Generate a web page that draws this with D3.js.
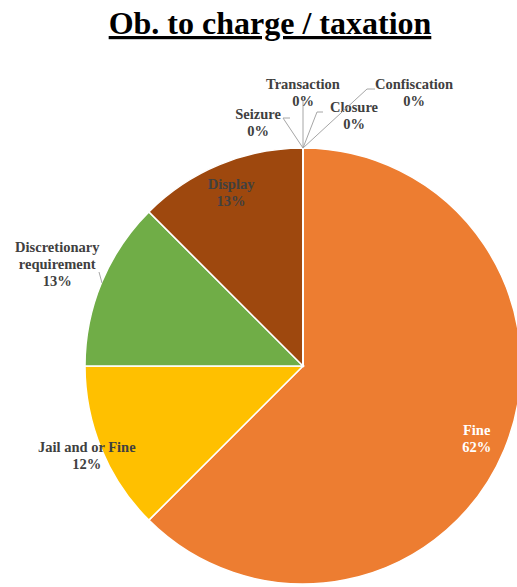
<!DOCTYPE html>
<html><head><meta charset="utf-8">
<script src="https://cdn.jsdelivr.net/npm/d3@7"></script>
<style>html,body{margin:0;padding:0;background:#fff;}</style>
</head><body>
<svg id="chart" width="517" height="587"></svg>
<script>
const categories = ["Fine", "Jail and or Fine", "Discretionary requirement", "Display", "Seizure", "Transaction", "Closure", "Confiscation"];
const values = [62.5, 12.5, 12.5, 12.5, 0, 0, 0, 0];
const percentLabels = ["62%", "12%", "13%", "13%", "0%", "0%", "0%", "0%"];
const colors = ["#ED7D31", "#FFC000", "#70AD47", "#9E480E", "#5B9BD5", "#A5A5A5", "#4472C4", "#264478"];
const title = "Ob. to charge / taxation";

const svg = d3.select("#chart");
const W = 517, H = 587;
const cx = 303, cy = 366, R = 218;
const serif = "'Liberation Serif', 'Times New Roman', serif";

svg.append("text").attr("x", 270).attr("y", 34).attr("text-anchor", "middle")
  .attr("font-family", serif).attr("font-weight", "bold")
  .attr("font-size", 32).attr("fill", "#000").attr("text-decoration", "underline").text(title);

const pie = d3.pie().sort(null).value(d => d)(values);
const arc = d3.arc().innerRadius(0).outerRadius(R);
const g = svg.append("g").attr("transform", `translate(${cx},${cy})`);
g.selectAll("path").data(pie).join("path")
  .attr("d", arc).attr("fill", (d, i) => colors[i])
  .attr("stroke", "#fff").attr("stroke-width", 1.5);

// label layout: polar radius for nonzero slices, fixed offsets for zero slices
const labelR = [188, 234, 266, 188];
const zeroPos = [[-45, -244, [[-20, -248], [-13, -248]]],
                 [0, -274, [[0, -265]]],
                 [51, -251, [[14, -254], [20, -254]]],
                 [111, -274, [[64, -277], [72, -277]]]];
const labelColor = i => i === 0 ? "#fff" : "#404040";

pie.forEach((d, i) => {
  let x, y, lines;
  if (d.value > 0) {
    const a = (d.startAngle + d.endAngle) / 2;
    x = Math.sin(a) * labelR[i];
    y = -Math.cos(a) * labelR[i];
  } else {
    const z = zeroPos[i - 4];
    x = z[0]; y = z[1];
    const pts = [[0, -R]].concat(z[2]);
    g.append("polyline").attr("points", pts.map(p => p.join(",")).join(" "))
      .attr("fill", "none").attr("stroke", "#A6A6A6").attr("stroke-width", 1);
  }
  if (i === 2) {
    g.append("line").attr("x1", -204).attr("y1", -94).attr("x2", -201).attr("y2", -83)
      .attr("stroke", "#A6A6A6").attr("stroke-width", 1);
  }
  lines = categories[i] === "Discretionary requirement" ? ["Discretionary", "requirement", percentLabels[i]] : [categories[i], percentLabels[i]];
  const t = g.append("text").attr("text-anchor", "middle")
    .attr("font-family", serif).attr("font-weight", "bold")
    .attr("font-size", 14.5).attr("fill", labelColor(i));
  const lh = 17;
  const y0 = y - (lines.length - 1) * lh / 2;
  lines.forEach((s, k) => t.append("tspan").attr("x", x).attr("y", y0 + k * lh).attr("dy", "0.35em").text(s));
});
</script>
</body></html>
